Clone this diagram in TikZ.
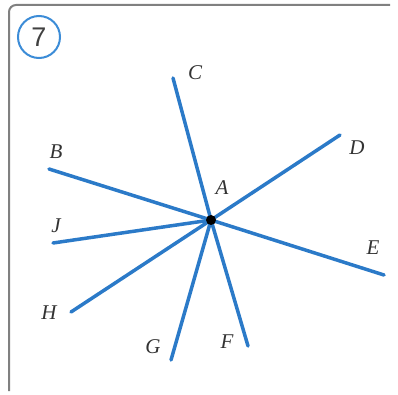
\documentclass[tikz,border=0pt]{standalone}
\usepackage{fontspec}
\setmainfont{Liberation Serif}
\newfontfamily\numfont{Liberation Sans}
\begin{document}
\begin{tikzpicture}[x=1pt,y=-1pt,
  ray/.style={line width=3.5pt,draw={rgb,255:red,43;green,122;blue,200},line cap=round},
  lbl/.style={font=\fontsize{21}{21}\selectfont\itshape,text=black!80,inner sep=0pt},
  frame/.style={line width=2pt,draw=black!50}]
\useasboundingbox (0,0) rectangle (398,395);
\draw[frame,rounded corners=7pt] (9,391) -- (9,5) -- (390,5);
\node[circle,draw={rgb,255:red,60;green,140;blue,215},line width=2pt,minimum size=42pt,inner sep=0pt,
  font=\fontsize{27}{27}\selectfont\numfont,text=black!75] (num) at (39,37) {7};
\coordinate (A) at (211,220);
\coordinate (B) at (49,169);
\coordinate (C) at (173,78);
\coordinate (D) at (340,135);
\coordinate (E) at (384,275);
\coordinate (F) at (248,346);
\coordinate (G) at (171,360);
\coordinate (H) at (71,312);
\coordinate (J) at (53,243);
\foreach \p in {B,C,D,E,F,G,H,J} \draw[ray] (A) -- (\p);
\fill[black] (A) circle (5pt);
\node[lbl] (lA) at (222,188) {A};
\node[lbl] (lB) at (56,152) {B};
\node[lbl] (lC) at (195,73) {C};
\node[lbl] (lD) at (357,148) {D};
\node[lbl] (lE) at (373,248) {E};
\node[lbl] (lF) at (227,342) {F};
\node[lbl] (lG) at (153,347) {G};
\node[lbl] (lH) at (49,313) {H};
\node[lbl] (lJ) at (56,226) {J};
\end{tikzpicture}
\end{document}
